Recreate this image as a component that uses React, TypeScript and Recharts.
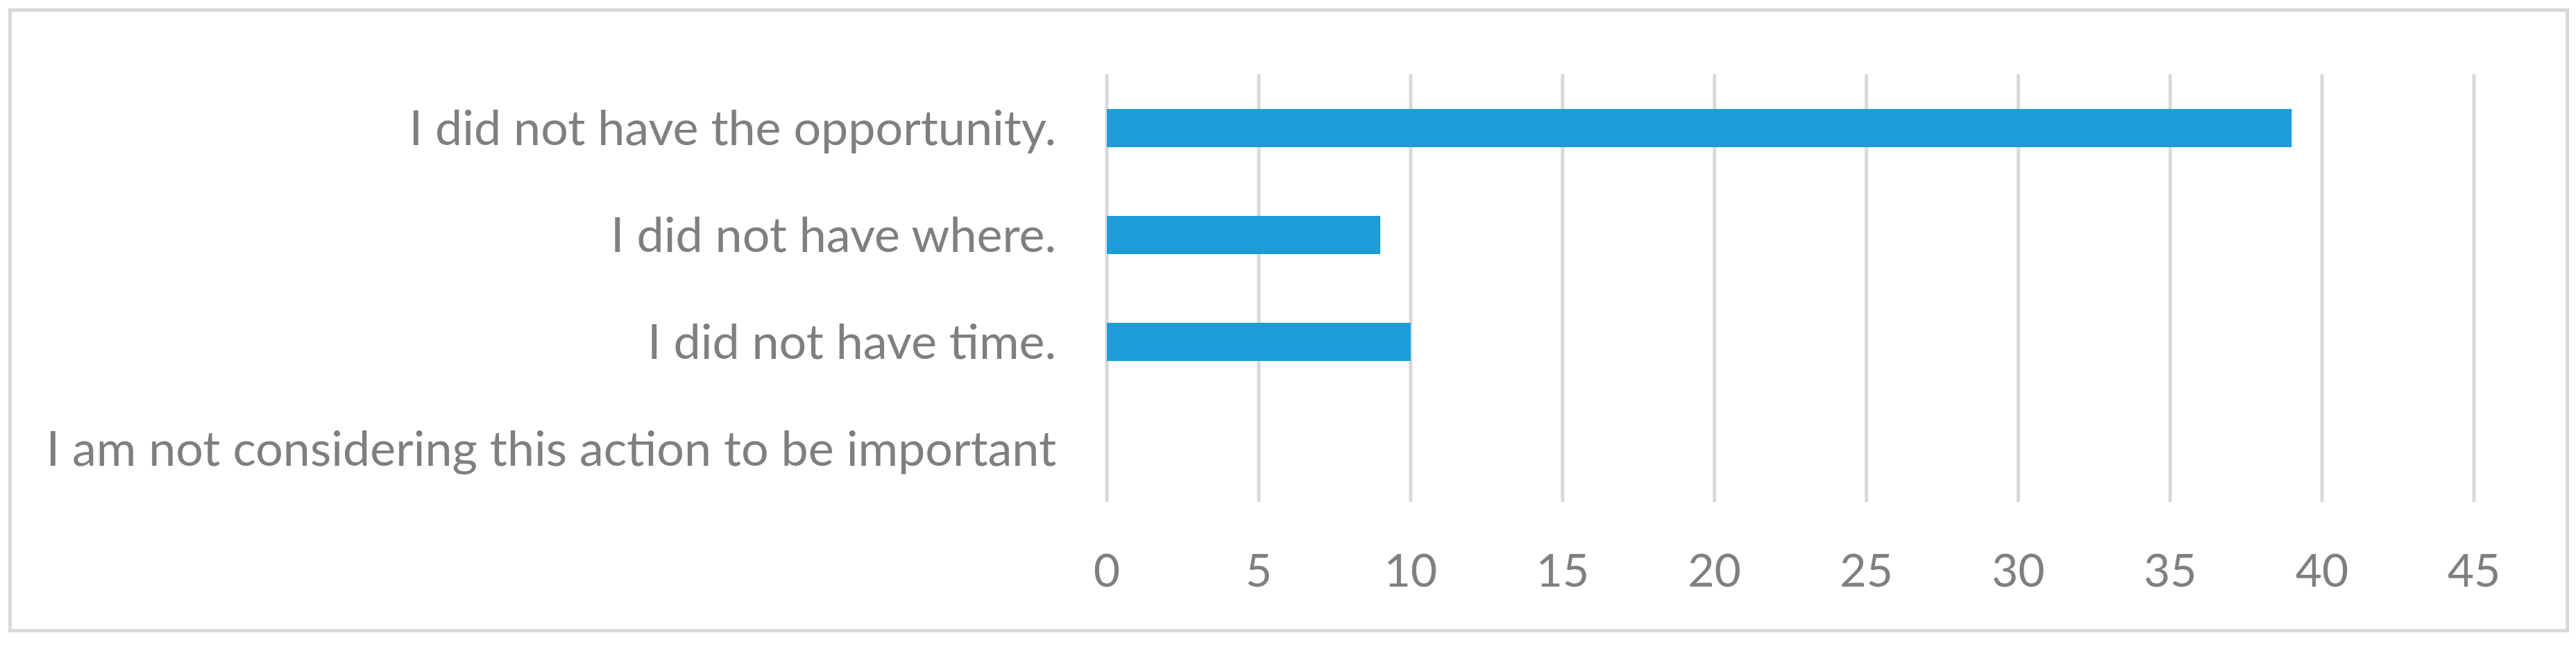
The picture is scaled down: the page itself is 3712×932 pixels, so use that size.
import React from "react";
import { BarChart, Bar, XAxis, YAxis, CartesianGrid } from "recharts";

const categories = [
  "I did not have the opportunity.",
  "I did not have where.",
  "I did not have time.",
  "I am not considering this action to be important",
];
const values = [39, 9, 10, 0];
const xTicks = [0, 5, 10, 15, 20, 25, 30, 35, 40, 45];

const data = categories.map((name, i) => ({ name, value: values[i] }));

const FONT = "Lato, 'Open Sans', sans-serif";
const TEXT = "#7f7f7f";

export default function App() {
  return (
    <div
      style={{
        width: 3680,
        height: 889,
        border: "5px solid #d9d9d9",
        marginLeft: 4,
        marginTop: 4,
        background: "#fff",
      }}
    >
      <BarChart
        width={3680}
        height={889}
        data={data}
        layout="vertical"
        margin={{ top: 90, right: 132, bottom: 0, left: 0 }}
      >
        <CartesianGrid
          horizontal={false}
          vertical={true}
          stroke="#d9d9d9"
          strokeWidth={5}
        />
        <XAxis
          type="number"
          domain={[0, 45]}
          ticks={xTicks}
          axisLine={false}
          tickLine={false}
          tickSize={0}
          tickMargin={75}
          height={183}
          tick={{ fill: TEXT, fontSize: 66, fontFamily: FONT }}
          interval={0}
        />
        <YAxis
          type="category"
          dataKey="name"
          width={1578}
          axisLine={false}
          tickLine={false}
          tickSize={0}
          tickMargin={73}
          tick={{ fill: TEXT, fontSize: 70, fontFamily: FONT }}
          interval={0}
        />
        <Bar
          dataKey="value"
          fill="#1e9cd7"
          barSize={55}
          isAnimationActive={false}
        />
      </BarChart>
    </div>
  );
}
